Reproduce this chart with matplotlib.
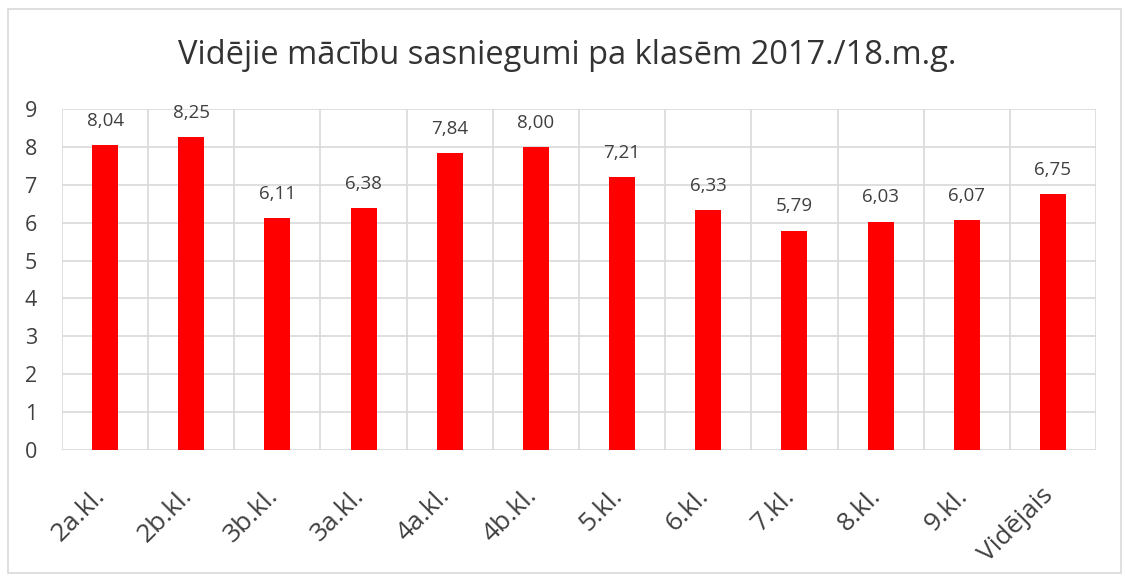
import matplotlib.pyplot as plt
from matplotlib.patches import Rectangle
from matplotlib.transforms import ScaledTranslation

plt.rcParams['font.family'] = ['Open Sans', 'DejaVu Sans']

# Data
classes = ["2a.kl.", "2b.kl.", "3b.kl.", "3a.kl.", "4a.kl.", "4b.kl.",
           "5.kl.", "6.kl.", "7.kl.", "8.kl.", "9.kl.", "Vidējais"]
averages = [8.04, 8.25, 6.11, 6.38, 7.84, 8.00, 7.21, 6.33, 5.79, 6.03, 6.07, 6.75]

fig = plt.figure(figsize=(11.25, 5.81), dpi=100)
ax = fig.add_axes([62 / 1125, 1 - 450 / 581, (1096 - 62) / 1125, (450 - 109) / 581])

x = range(len(classes))
bars = ax.bar(x, averages, width=0.30, color='#ff0000', zorder=3)

for b, v in zip(bars, averages):
    ax.annotate(f"{v:.2f}".replace('.', ','), (b.get_x() + b.get_width() / 2, v),
                xytext=(0, 11), textcoords='offset points', ha='center', va='bottom',
                fontsize=13.5, color='#404040')

ax.set_xlim(-0.5, len(classes) - 0.5)
ax.set_ylim(0, 9)
ax.set_yticks(range(10))
ax.set_xticks(list(x))
ax.set_xticklabels(classes, rotation=45, ha='right', rotation_mode='anchor')
ax.set_xticks([i - 0.5 for i in range(len(classes) + 1)], minor=True)
ax.tick_params(axis='both', which='both', length=0, colors='#404040')
ax.tick_params(axis='y', pad=18, labelsize=15.5)
ax.tick_params(axis='x', pad=24, labelsize=19)
shift = ScaledTranslation(-12 / 100, 0, fig.dpi_scale_trans)
for lbl in ax.get_xticklabels():
    lbl.set_transform(lbl.get_transform() + shift)
ax.grid(axis='y', which='major', color='#d9d9d9', linewidth=1.2, zorder=0)
ax.grid(axis='x', which='minor', color='#d9d9d9', linewidth=1.2, zorder=0)
for s in ax.spines.values():
    s.set_visible(False)

fig.text(0.504, 1 - 55 / 581, "Vidējie mācību sasniegumi pa klasēm 2017./18.m.g.",
         ha='center', va='center', fontsize=23.5, color='#333333')

fig.patches.append(Rectangle((8 / 1125, 1 - 573 / 581), 1113 / 1125, 564 / 581,
                             transform=fig.transFigure, fill=False,
                             edgecolor='#d9d9d9', linewidth=1.2))

fig.savefig('out.png', dpi=100)
